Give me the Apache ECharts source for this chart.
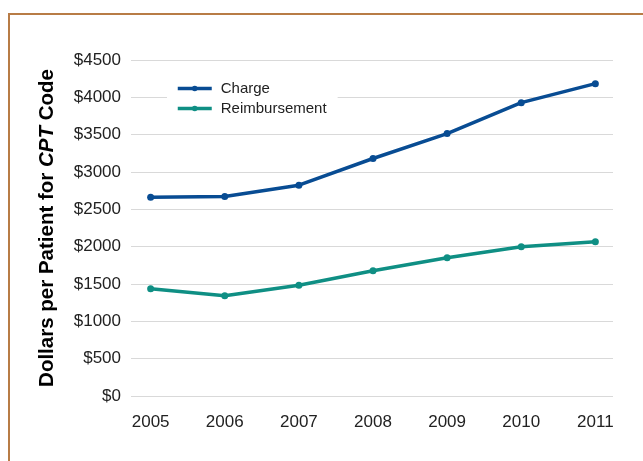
<!DOCTYPE html>
<html>
<head>
<meta charset="utf-8">
<script src="https://cdn.jsdelivr.net/npm/echarts@6/dist/echarts.min.js"></script>
<style>html,body{margin:0;padding:0;background:#fff;}#c{width:643px;height:461px;}</style>
</head>
<body>
<div id="c"></div>
<script>
const years = [2005, 2006, 2007, 2008, 2009, 2010, 2011];
const charge = [2663, 2672, 2823, 3181, 3515, 3929, 4183];
const reimbursement = [1437, 1344, 1483, 1678, 1852, 1999, 2066];
const yTicks = [0, 500, 1000, 1500, 2000, 2500, 3000, 3500, 4000, 4500];

const font = '"Liberation Sans", Arial, Helvetica, sans-serif';
const chart = echarts.init(document.getElementById('c'), null, {renderer: 'canvas'});
chart.setOption({
  backgroundColor: '#fff',
  animation: false,
  textStyle: {fontFamily: font},
  graphic: [{
    type: 'rect', silent: true,
    shape: {x: 9, y: 14, width: 700, height: 500},
    style: {fill: 'none', stroke: '#b87c46', lineWidth: 2}
  }],
  grid: {left: 131, right: 30, top: 60, bottom: 65},
  legend: {
    orient: 'vertical', left: 167, top: 77,
    backgroundColor: '#fff',
    padding: [4, 11, 4, 9],
    itemWidth: 34, itemHeight: 7, itemGap: 5,
    lineStyle: {width: 3.5},
    textStyle: {fontSize: 15, color: '#222', fontFamily: font, padding: [0, 0, 0, 4]},
    data: ['Charge', 'Reimbursement']
  },
  xAxis: {
    type: 'value', min: 2004.735, max: 2011.238,
    axisLine: {show: false}, axisTick: {show: false}, splitLine: {show: false},
    axisLabel: {
      customValues: years, margin: 18, fontSize: 17, color: '#222', fontFamily: font,
      formatter: v => String(v)
    }
  },
  yAxis: {
    type: 'value', min: 0, max: 4500, interval: 500,
    name: '{a|Dollars per Patient for }{b|CPT}{a| Code}',
    nameLocation: 'middle', nameRotate: 90, nameGap: 73,
    nameTextStyle: {
      rich: {
        a: {fontSize: 20.5, fontWeight: 'bold', color: '#000', fontFamily: font},
        b: {fontSize: 20.5, fontWeight: 'bold', fontStyle: 'italic', color: '#000', fontFamily: font}
      }
    },
    axisLine: {show: false}, axisTick: {show: false},
    splitLine: {lineStyle: {color: '#d9d9d9', width: 1}},
    axisLabel: {margin: 10, fontSize: 17, color: '#222', fontFamily: font, formatter: v => '$' + v}
  },
  series: [
    {
      name: 'Charge', type: 'line',
      data: years.map((y, i) => [y, charge[i]]),
      symbol: 'circle', symbolSize: 7,
      lineStyle: {color: '#084c93', width: 3.5},
      itemStyle: {color: '#084c93'}
    },
    {
      name: 'Reimbursement', type: 'line',
      data: years.map((y, i) => [y, reimbursement[i]]),
      symbol: 'circle', symbolSize: 7,
      lineStyle: {color: '#0f8f84', width: 3.5},
      itemStyle: {color: '#0f8f84'}
    }
  ]
});
</script>
</body>
</html>
